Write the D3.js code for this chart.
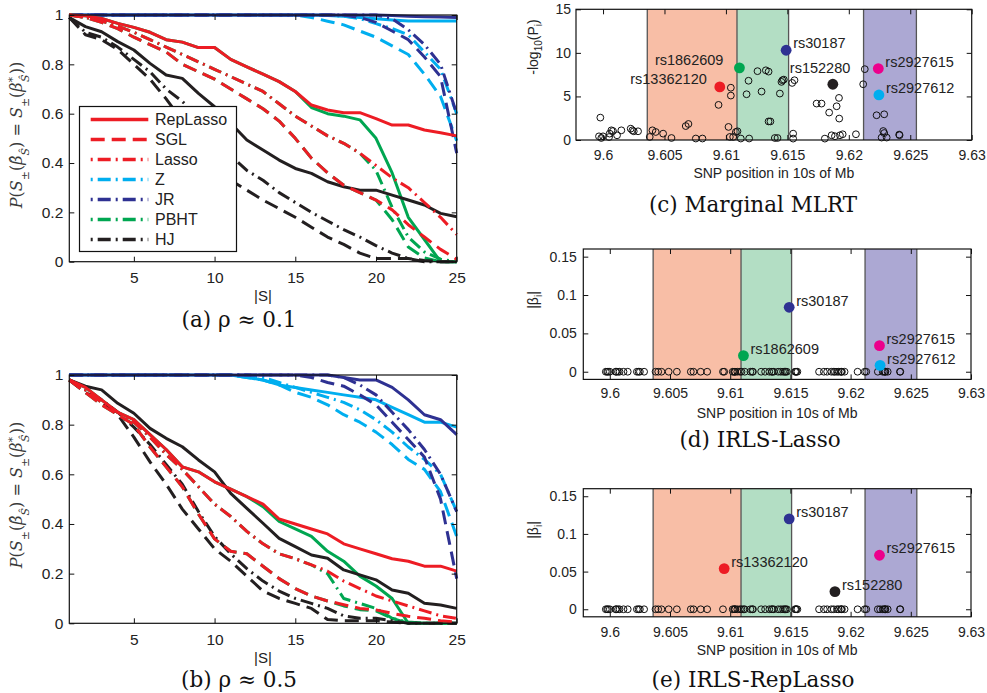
<!DOCTYPE html>
<html><head><meta charset="utf-8">
<script src="https://cdn.jsdelivr.net/npm/d3@7/dist/d3.min.js"></script>
<style>
body{margin:0;background:#fff}
svg{display:block}
text{font-family:"Liberation Sans",Arial,sans-serif}
</style></head>
<body><svg id="fig" width="987" height="693"></svg>
<script>
// ---------------- DATA ----------------
const sizes = [1,2,3,4,5,6,7,8,9,10,11,12,13,14,15,16,17,18,19,20,21,22,23,24,25];
const xTicksAB = [5,10,15,20,25];
const yTicksAB = [0,0.2,0.4,0.6,0.8,1];

// panel (a) rho ~ 0.1
const a_RepLasso   = [1,0.997,0.986,0.966,0.95,0.93,0.9,0.89,0.868,0.868,0.82,0.79,0.76,0.73,0.69,0.635,0.615,0.604,0.604,0.58,0.554,0.554,0.534,0.523,0.51];
const a_SGL        = [1,0.99,0.97,0.945,0.91,0.88,0.85,0.8,0.77,0.74,0.7,0.66,0.62,0.57,0.5,0.42,0.36,0.31,0.28,0.25,0.21,0.15,0.1,0.05,0.01];
const a_Lasso      = [1,0.99,0.975,0.955,0.93,0.9,0.87,0.84,0.81,0.78,0.75,0.72,0.69,0.64,0.59,0.55,0.51,0.48,0.44,0.39,0.34,0.3,0.24,0.18,0.11];
const a_Z_rep      = [1,1,1,1,1,1,1,1,1,1,1,1,1,1,1,1,0.998,0.995,0.99,0.985,0.98,0.976,0.976,0.976,0.976];
const a_Z_sgl      = [1,1,1,1,1,1,1,1,1,1,1,1,1,1,1,0.99,0.975,0.96,0.935,0.91,0.875,0.84,0.76,0.67,0.49];
const a_Z_lasso    = [1,1,1,1,1,1,1,1,1,1,1,1,1,1,1,1,1,0.995,0.985,0.965,0.945,0.92,0.85,0.78,0.6];
const a_JR_rep     = [1,1,1,1,1,1,1,1,1,1,1,1,1,1,1,1,1,1,1,1,0.998,0.995,0.993,0.992,0.99];
const a_JR_sgl     = [1,1,1,1,1,1,1,1,1,1,1,1,1,1,1,1,1,1,0.99,0.97,0.935,0.9,0.83,0.75,0.44];
const a_JR_lasso   = [1,1,1,1,1,1,1,1,1,1,1,1,1,1,1,1,1,1,1,1,0.985,0.94,0.88,0.8,0.6];
const a_PBHT_rep   = [1,0.997,0.986,0.966,0.95,0.93,0.9,0.89,0.868,0.868,0.82,0.79,0.76,0.73,0.69,0.625,0.6,0.59,0.575,0.5,0.36,0.18,0.09,0,0];
const a_PBHT_sgl   = [1,0.99,0.97,0.945,0.91,0.88,0.85,0.8,0.77,0.74,0.7,0.66,0.62,0.57,0.5,0.42,0.36,0.31,0.28,0.25,0.17,0.06,0.015,0,0];
const a_PBHT_lasso = [1,0.99,0.975,0.955,0.93,0.9,0.87,0.84,0.81,0.78,0.75,0.72,0.69,0.64,0.59,0.55,0.51,0.48,0.44,0.37,0.22,0.1,0.04,0.01,0];
const a_HJ_rep     = [0.99,0.953,0.932,0.892,0.858,0.804,0.757,0.743,0.682,0.628,0.561,0.493,0.453,0.412,0.378,0.358,0.324,0.304,0.29,0.29,0.27,0.25,0.23,0.196,0.182];
const a_HJ_sgl     = [0.99,0.92,0.9,0.86,0.8,0.74,0.66,0.57,0.49,0.41,0.33,0.29,0.25,0.215,0.18,0.14,0.1,0.07,0.035,0.013,0.013,0.013,0.005,0,0];
const a_HJ_lasso   = [0.99,0.93,0.91,0.87,0.82,0.77,0.7,0.65,0.58,0.5,0.43,0.37,0.33,0.28,0.24,0.2,0.165,0.13,0.1,0.065,0.035,0.013,0,0,0];

// panel (b) rho ~ 0.5
const b_RepLasso   = [0.98,0.95,0.9,0.85,0.82,0.76,0.7,0.63,0.61,0.57,0.54,0.51,0.48,0.42,0.4,0.38,0.36,0.32,0.3,0.28,0.26,0.25,0.23,0.23,0.21];
const b_SGL        = [0.98,0.93,0.88,0.84,0.8,0.71,0.63,0.55,0.44,0.34,0.29,0.28,0.23,0.18,0.14,0.11,0.09,0.075,0.06,0.054,0.04,0.028,0.02,0.01,0.005];
const b_Lasso      = [0.98,0.94,0.89,0.85,0.81,0.75,0.68,0.62,0.55,0.48,0.43,0.37,0.32,0.28,0.26,0.235,0.21,0.17,0.14,0.11,0.09,0.07,0.05,0.03,0.02];
const b_Z_rep      = [1,1,1,1,1,1,1,1,1,1,1,0.99,0.98,0.96,0.95,0.94,0.93,0.92,0.91,0.9,0.87,0.84,0.81,0.81,0.79];
const b_Z_sgl      = [1,1,1,1,1,1,1,1,1,1,1,0.99,0.98,0.96,0.93,0.91,0.88,0.84,0.81,0.77,0.72,0.66,0.62,0.53,0.35];
const b_Z_lasso    = [1,1,1,1,1,1,1,1,1,1,1,1,0.99,0.97,0.95,0.93,0.91,0.89,0.86,0.82,0.77,0.71,0.66,0.6,0.45];
const b_JR_rep     = [1,1,1,1,1,1,1,1,1,1,1,1,1,1,1,1,1,0.99,0.98,0.98,0.95,0.9,0.84,0.82,0.76];
const b_JR_sgl     = [1,1,1,1,1,1,1,1,1,1,1,1,1,1,1,0.99,0.97,0.955,0.92,0.88,0.81,0.74,0.67,0.5,0.18];
const b_JR_lasso   = [1,1,1,1,1,1,1,1,1,1,1,1,1,1,1,1,1,0.99,0.96,0.92,0.85,0.78,0.7,0.6,0.45];
const b_PBHT_rep   = [0.98,0.95,0.9,0.85,0.82,0.76,0.7,0.63,0.61,0.57,0.54,0.51,0.47,0.41,0.38,0.35,0.29,0.25,0.19,0.15,0.1,0,0,0,0];
const b_PBHT_sgl   = [0.98,0.93,0.88,0.84,0.8,0.71,0.63,0.55,0.44,0.34,0.29,0.28,0.23,0.18,0.14,0.11,0.09,0.07,0.055,0.05,0.02,0,0,0,0];
const b_PBHT_lasso = [0.98,0.94,0.89,0.85,0.81,0.75,0.68,0.62,0.55,0.48,0.43,0.37,0.32,0.28,0.26,0.235,0.2,0.1,0.08,0.06,0.02,0.005,0,0,0];
const b_HJ_rep     = [0.98,0.955,0.94,0.886,0.846,0.785,0.745,0.711,0.658,0.61,0.523,0.463,0.403,0.342,0.309,0.275,0.262,0.215,0.195,0.175,0.134,0.121,0.081,0.074,0.06];
const b_HJ_sgl     = [0.98,0.93,0.89,0.84,0.75,0.65,0.56,0.46,0.38,0.3,0.25,0.19,0.13,0.1,0.08,0.06,0.015,0.01,0.01,0.01,0.005,0,0,0,0];
const b_HJ_lasso   = [0.98,0.94,0.9,0.85,0.79,0.72,0.64,0.56,0.45,0.35,0.28,0.22,0.17,0.13,0.1,0.08,0.06,0.03,0.02,0.02,0.01,0,0,0,0];

const legendNames = ["RepLasso","SGL","Lasso","Z","JR","PBHT","HJ"];

// SNP panels
const xTicksSNP = [9.6,9.605,9.61,9.615,9.62,9.625,9.63];
const yTicksC = [0,5,10,15];
const yTicksDE = [0,0.05,0.1,0.15];
const blockStart = [9.6036, 9.6109, 9.6212];
const blockEnd   = [9.6109, 9.6151, 9.6255];

const snpPos = [9.59978,9.59967,9.59986,9.6,9.60049,9.60054,9.60068,9.60081,9.60114,9.60149,9.60225,9.60239,9.6025,9.60285,
  9.6038,9.60402,9.60429,9.60489,9.60557,9.60673,9.60695,9.60755,9.60809,9.6094,9.61021,9.6104,9.6104,9.61032,9.61059,9.61081,9.61094,
  9.61121,9.61189,9.61184,9.61168,9.61257,9.6129,9.61325,9.61347,9.61347,9.61362,9.61398,9.6142,9.61439,9.61452,9.6146,9.61471,
  9.61539,9.61558,9.61547,9.61547,9.61738,9.61778,9.61901,9.6192,9.6184,9.61922,9.61805,9.6186,9.61887,9.61928,9.6195,9.62058,
  9.6213,9.62117,9.62226,9.62288,9.6228,9.62288,9.62267,9.62308,9.6241,9.62413];
const snpMLRT = [2.57,0.42,0.23,0.42,0.34,0.73,1.11,1.03,0.54,1.11,1.3,1.11,1.0,1.0,
  0.35,1.11,0.92,0.73,0.23,1.6,1.84,0.17,0.17,4.03,1.5,6.0,5.1,0.35,0.35,0.92,1.0,
  0.17,0.17,6.8,5.25,7.9,5.56,8.0,7.85,2.13,2.13,0.23,0.23,5.33,6.67,6.86,6.93,
  6.55,6.86,0.73,0.16,4.18,4.18,3.87,4.83,3.15,2.46,0.16,0.54,0.43,0.54,0.66,0.66,
  8.13,6.4,2.84,2.95,1.03,0.8,0.28,0.28,0.62,0.55];

const hlNames     = ["rs13362120","rs1862609","rs30187","rs152280","rs2927615","rs2927612"];
const hlPos       = [9.6095,9.6111,9.6149,9.6187,9.6224,9.62245];
const hlMLRT      = [6.09,8.28,10.3,6.4,8.2,5.17];
const hlLasso     = [0,0.021,0.084,0,0.034,0.0083];
const hlRepLasso  = [0.054,0,0.12,0.0235,0.0717,0];

// ---------------- STYLE ----------------
const COL = {red:"#ED1C24", cyan:"#00AEEF", navy:"#2E3192", green:"#00A651", black:"#231F20", magenta:"#EC008C"};
const DASH = {solid:null, dashed:"14,7", dashdot:"13,5,2,5"};
const hlColor = {rs13362120:COL.red, rs1862609:COL.green, rs30187:COL.navy, rs152280:COL.black, rs2927615:COL.magenta, rs2927612:COL.cyan};
const blockFill = ["#F8BEA6","#B3DEC4","#ACA8D3"];
const TXT = "#222";

const svg = d3.select("#fig");

function frame(g, x, y, o){
  const bx = d3.axisBottom(x).tickValues(o.xt).tickSize(-5).tickPadding(o.padX).tickFormat(d=>String(d));
  const tx = d3.axisTop(x).tickValues(o.xt).tickSize(-5).tickFormat("");
  const ly = d3.axisLeft(y).tickValues(o.yt).tickSize(-5).tickPadding(o.padY).tickFormat(d=>String(d));
  const ry = d3.axisRight(y).tickValues(o.yt).tickSize(-5).tickFormat("");
  const [x0,x1] = x.range(), [y0,y1] = y.range();
  const add = (ax, t) => {
    const a = g.append("g").attr("transform", t).call(ax);
    a.select(".domain").remove();
    a.selectAll("line").attr("stroke","#111").attr("stroke-width",1);
    a.selectAll("text").attr("fill",TXT).style("font-size",o.fs+"px").style("font-family","'Liberation Sans',Arial,sans-serif");
    return a;
  };
  add(bx, `translate(0,${y0})`);
  add(tx, `translate(0,${y1})`);
  add(ly, `translate(${x0},0)`);
  add(ry, `translate(${x1},0)`);
  g.append("rect").attr("x",x0).attr("y",y1).attr("width",x1-x0).attr("height",y0-y1)
    .attr("fill","none").attr("stroke","#111").attr("stroke-width",1.2);
}

function richText(g, tx, ty, rot, parts, opts){
  const t = g.append("text")
    .attr("transform",`translate(${tx},${ty})${rot?" rotate(-90)":""}`)
    .attr("text-anchor","middle").attr("fill",opts.fill||TXT)
    .style("font-family",opts.family).style("font-size",opts.size+"px");
  let cur = 0;
  parts.forEach(p=>{
    const s = t.append("tspan").text(p.t);
    const target = p.shift||0;
    if (target!==cur){ s.attr("dy", target-cur); cur = target; }
    if (p.dx) s.attr("dx", p.dx);
    if (p.it) s.style("font-style","italic");
    if (p.sz) s.style("font-size", p.sz+"px");
  });
  return t;
}

function caption(txt, cx, by){
  svg.append("text").attr("x",cx).attr("y",by).attr("text-anchor","middle").attr("fill","#111")
    .style("font-family","'DejaVu Serif',serif").style("font-size","21.5px").text(txt);
}

// ---------------- PANELS (a),(b) ----------------
function curvePanel(P){
  const g = svg.append("g");
  const x = d3.scaleLinear().domain([1,25]).range([69.3,456.7]);
  const y = d3.scaleLinear().domain([0,1]).range([P.bottom,P.top]);
  const line = d3.line().x((d,i)=>x(sizes[i])).y(d=>y(d));
  P.series.forEach(s=>{
    g.append("path").attr("d",line(s.v)).attr("fill","none").attr("stroke",s.c)
      .attr("stroke-width",3).attr("stroke-dasharray",DASH[s.d]).attr("stroke-linejoin","round");
  });
  if (P.legend){
    const lg = g.append("g");
    lg.append("rect").attr("x",79.5).attr("y",106.5).attr("width",157).attr("height",145)
      .attr("fill","#fff").attr("stroke","#111").attr("stroke-width",1.2);
    P.legend.forEach((e,i)=>{
      const yy = 119.5 + i*20;
      lg.append("line").attr("x1",90.7).attr("x2",148.3).attr("y1",yy).attr("y2",yy)
        .attr("stroke",e.c).attr("stroke-width",3.6).attr("stroke-dasharray",DASH[e.d])
        .attr("stroke-dashoffset", e.d==="dashdot"?18:0);
      lg.append("text").attr("x",155).attr("y",yy).attr("dy","0.36em").attr("fill",TXT)
        .style("font-size","16px").text(e.n);
    });
  }
  frame(g, x, y, {xt:xTicksAB, yt:yTicksAB, padX:10.5, padY:6, fs:15.5});
  g.append("text").attr("x",263).attr("y",P.bottom+39.5).attr("text-anchor","middle").attr("fill",TXT)
    .style("font-size","15px").text("|S|");
  const sub = 7, sz = 11;
  richText(g, 22, P.labY, true, [
    {t:"P",it:1},{t:"("},{t:"S",it:1},{t:"±",shift:sub,sz:sz},{t:"(",shift:0},{t:"β\u0302",it:1},
    {t:"S\u0302",it:1,shift:sub,sz:sz},{t:")",shift:0},{t:" = "},{t:"S",it:1},{t:"±",shift:sub,sz:sz},
    {t:"(",shift:0},{t:"β",it:1},{t:"*",shift:-6,sz:sz},{t:"S\u0302",it:1,shift:sub,sz:sz,dx:-5},
    {t:"))",shift:0}
  ], {family:"'DejaVu Serif',serif", size:16, fill:"#3a3a3a"});
  caption(P.cap, 239, P.capY);
}

function famSeries(rep, sgl, lasso, c){
  return [{v:rep,c:c,d:"solid"},{v:sgl,c:c,d:"dashed"},{v:lasso,c:c,d:"dashdot"}];
}
const legendSpec = [
  {n:legendNames[0],c:COL.red,d:"solid"},{n:legendNames[1],c:COL.red,d:"dashed"},
  {n:legendNames[2],c:COL.red,d:"dashdot"},{n:legendNames[3],c:COL.cyan,d:"dashdot"},
  {n:legendNames[4],c:COL.navy,d:"dashdot"},{n:legendNames[5],c:COL.green,d:"dashdot"},
  {n:legendNames[6],c:COL.black,d:"dashdot"}];

curvePanel({top:15, bottom:261.7, labY:135, cap:"(a) ρ ≈ 0.1", capY:327, legend:legendSpec,
  series:[...famSeries(a_Z_rep,a_Z_sgl,a_Z_lasso,COL.cyan), ...famSeries(a_JR_rep,a_JR_sgl,a_JR_lasso,COL.navy),
          ...famSeries(a_PBHT_rep,a_PBHT_sgl,a_PBHT_lasso,COL.green), ...famSeries(a_HJ_rep,a_HJ_sgl,a_HJ_lasso,COL.black),
          ...famSeries(a_RepLasso,a_SGL,a_Lasso,COL.red)]});
curvePanel({top:375, bottom:623.3, labY:495, cap:"(b) ρ ≈ 0.5", capY:687,
  series:[...famSeries(b_Z_rep,b_Z_sgl,b_Z_lasso,COL.cyan), ...famSeries(b_JR_rep,b_JR_sgl,b_JR_lasso,COL.navy),
          ...famSeries(b_PBHT_rep,b_PBHT_sgl,b_PBHT_lasso,COL.green), ...famSeries(b_HJ_rep,b_HJ_sgl,b_HJ_lasso,COL.black),
          ...famSeries(b_RepLasso,b_SGL,b_Lasso,COL.red)]});

// ---------------- PANELS (c),(d),(e) ----------------
const defLab = {anchor:"start", dx:7, dy:-7};
function snpPanel(P){
  const g = svg.append("g");
  const x = d3.scaleLinear().domain([9.5978,9.63]).range([P.left,P.right]);
  const y = d3.scaleLinear().domain(P.yDom).range([P.bottom,P.top]);
  const yb = P.shadeToZero ? y(0) : P.bottom;
  blockStart.forEach((s,i)=>{
    g.append("rect").attr("x",x(s)).attr("y",P.top).attr("width",x(blockEnd[i])-x(s)).attr("height",yb-P.top)
      .attr("fill",blockFill[i]);
  });
  Array.from(new Set([...blockStart,...blockEnd])).forEach(v=>{
    g.append("line").attr("x1",x(v)).attr("x2",x(v)).attr("y1",P.top).attr("y2",yb)
      .attr("stroke","#555").attr("stroke-width",1.3);
  });
  g.selectAll("circle.o").data(P.open).enter().append("circle")
    .attr("cx",d=>x(d[0])).attr("cy",d=>y(d[1])).attr("r",3.4)
    .attr("fill","none").attr("stroke","#111").attr("stroke-width",1);
  P.hl.forEach(h=>{
    g.append("circle").attr("cx",x(h.pos)).attr("cy",y(h.val)).attr("r",5.4).attr("fill",hlColor[h.name]);
    const L = (P.lab && P.lab[h.name]) || defLab;
    g.append("text").attr("x",x(h.pos)+L.dx).attr("y",y(h.val)+L.dy).attr("dy","0.36em")
      .attr("text-anchor",L.anchor).attr("fill",TXT).style("font-size","14.5px").text(h.name);
  });
  frame(g, x, y, {xt:xTicksSNP, yt:P.yt, padX:P.padX, padY:P.padY, fs:14});
  g.append("text").attr("x",(P.left+P.right)/2).attr("y",P.bottom+38.3).attr("text-anchor","middle")
    .attr("fill",TXT).style("font-size","14px").text("SNP position in 10s of Mb");
  richText(g, 538, P.labY, true, P.ylab, {family:"'Liberation Sans',Arial,sans-serif", size:14});
  caption(P.cap, P.capX, P.capY);
}

const openAll = snpPos.map((p,i)=>[p, snpMLRT[i]]);
function zeroRow(vals){
  const rows = snpPos.map(p=>[p,0]);
  hlNames.forEach((n,i)=>{ if (vals[i]===0) rows.push([hlPos[i],0]); });
  return rows;
}
function hlList(vals){
  return hlNames.map((n,i)=>({name:n,pos:hlPos[i],val:vals[i]})).filter(h=>h.val>0);
}

snpPanel({left:576, right:971.7, top:9.3, bottom:140, yDom:[0,15], yt:yTicksC, shadeToZero:true,
  padX:10, padY:5, open:openAll, hl:hlList(hlMLRT),
  lab:{rs13362120:{anchor:"end",dx:-13,dy:-8}, rs1862609:{anchor:"end",dx:-16,dy:-8}, rs152280:{anchor:"start",dx:-43,dy:-16}},
  ylab:[{t:"-log"},{t:"10",shift:4,sz:10},{t:"(P",shift:0},{t:"i",shift:4,sz:10},{t:")",shift:0}],
  labY:47, cap:"(c) Marginal MLRT", capX:753, capY:212});
snpPanel({left:583.3, right:971, top:249, bottom:379.4, yDom:[-0.01,0.16], yt:yTicksDE,
  padX:9, padY:6.5, open:zeroRow(hlLasso), hl:hlList(hlLasso),
  ylab:[{t:"|β"},{t:"i",shift:4,sz:10},{t:"|",shift:0}],
  labY:300, cap:"(d) IRLS-Lasso", capX:760, capY:447});
snpPanel({left:583.3, right:971, top:488.7, bottom:616.8, yDom:[-0.01,0.16], yt:yTicksDE,
  padX:10, padY:6.5, open:zeroRow(hlRepLasso), hl:hlList(hlRepLasso),
  ylab:[{t:"|β"},{t:"i",shift:4,sz:10},{t:"|",shift:0}],
  labY:530, cap:"(e) IRLS-RepLasso", capX:753, capY:687});
</script></body></html>
